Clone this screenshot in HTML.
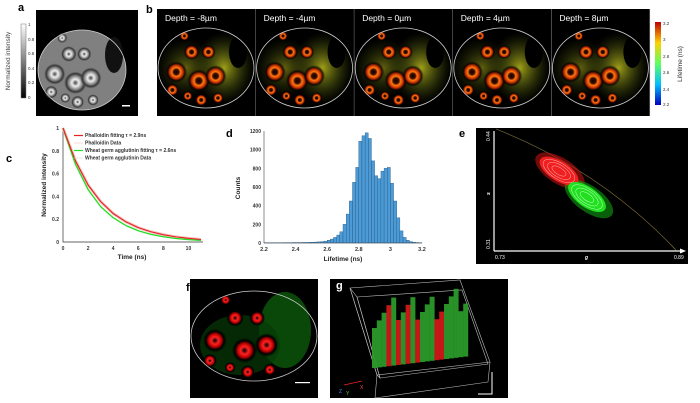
<!DOCTYPE html>
<html><head><meta charset="utf-8"><style>
body{margin:0;background:#fff}
svg{display:block;font-family:"Liberation Sans",Arial,sans-serif}
</style></head><body>
<svg id="fig" width="700" height="403" viewBox="0 0 700 403">
<defs>
<linearGradient id="gray" x1="0" y1="1" x2="0" y2="0"><stop offset="0" stop-color="#000"/><stop offset="1" stop-color="#fff"/></linearGradient>
<linearGradient id="jet" x1="0" y1="1" x2="0" y2="0"><stop offset="0" stop-color="#0000c0"/><stop offset="0.25" stop-color="#00c0ff"/><stop offset="0.5" stop-color="#60ff60"/><stop offset="0.75" stop-color="#ffd000"/><stop offset="1" stop-color="#c00000"/></linearGradient>
<radialGradient id="orange"><stop offset="0" stop-color="#100"/><stop offset="0.25" stop-color="#401000"/><stop offset="0.4" stop-color="#ff7a10"/><stop offset="0.62" stop-color="#c83000"/><stop offset="0.8" stop-color="#100" stop-opacity="0.8"/><stop offset="1" stop-color="#000" stop-opacity="0"/></radialGradient>
<radialGradient id="yel"><stop offset="0" stop-color="#a0a018"/><stop offset="1" stop-color="#405010" stop-opacity="0"/></radialGradient>
<radialGradient id="grayc"><stop offset="0" stop-color="#444"/><stop offset="0.3" stop-color="#eee"/><stop offset="0.55" stop-color="#999"/><stop offset="0.8" stop-color="#333"/><stop offset="1" stop-color="#666" stop-opacity="0"/></radialGradient>
<radialGradient id="redc"><stop offset="0" stop-color="#000"/><stop offset="0.3" stop-color="#f22"/><stop offset="0.55" stop-color="#b00"/><stop offset="0.75" stop-color="#000"/><stop offset="1" stop-color="#000" stop-opacity="0"/></radialGradient>
</defs>

<!-- panel a -->
<text x="18" y="11" font-size="11" font-weight="bold">a</text>
<rect x="21" y="24" width="5" height="74" fill="url(#gray)" stroke="#777" stroke-width="0.5"/>
<g font-size="4.5" fill="#333">
<text x="28" y="26">1</text><text x="28" y="41">0.8</text><text x="28" y="55">0.6</text><text x="28" y="70">0.4</text><text x="28" y="84">0.2</text><text x="28" y="99">0</text></g>
<text transform="translate(10,61) rotate(-90)" font-size="6.5" fill="#444" text-anchor="middle">Normalized intensity</text>
<rect x="36" y="10" width="102" height="106" fill="#000"/>
<g id="aCells"></g>
<ellipse cx="82" cy="70" rx="44" ry="40" fill="none" stroke="#ccc" stroke-width="0.8"/>
<rect x="122" y="105" width="8" height="1.5" fill="#fff"/>

<!-- panel b -->
<text x="146" y="13" font-size="11" font-weight="bold">b</text>
<g id="bPanels"></g>
<rect x="655" y="22" width="6" height="83" fill="url(#jet)"/>
<g font-size="4.5" fill="#333">
<text x="663" y="25">3.2</text><text x="663" y="41">3</text><text x="663" y="58">2.8</text><text x="663" y="74">2.6</text><text x="663" y="91">2.4</text><text x="663" y="106">2.2</text></g>
<text transform="translate(682,64) rotate(-90)" font-size="6.5" fill="#333" text-anchor="middle">Lifetime (ns)</text>

<!-- panel c -->
<text x="6" y="162" font-size="11" font-weight="bold">c</text>
<g id="cChart"></g>

<!-- panel d -->
<text x="226" y="137" font-size="11" font-weight="bold">d</text>
<g id="dChart"></g>

<!-- panel e -->
<text x="459" y="137" font-size="11" font-weight="bold">e</text>
<rect x="476" y="128" width="212" height="136" fill="#000"/>
<path d="M 496 129 Q 600 170 676 250" fill="none" stroke="#8a7a40" stroke-width="0.6"/>
<g id="ePts"></g>
<g>
<ellipse cx="559" cy="171" rx="22" ry="10" transform="rotate(32 559 171)" fill="#f02020"/>
<ellipse cx="559" cy="171" rx="18" ry="8" transform="rotate(32 559 171)" fill="none" stroke="#ffaaaa" stroke-width="0.5"/>
<ellipse cx="559" cy="171" rx="13" ry="6" transform="rotate(32 559 171)" fill="none" stroke="#ffaaaa" stroke-width="0.5"/>
<ellipse cx="559" cy="171" rx="8" ry="3.5" transform="rotate(32 559 171)" fill="none" stroke="#ffaaaa" stroke-width="0.5"/></g>
<g>
<ellipse cx="587" cy="197" rx="22" ry="10" transform="rotate(35 587 197)" fill="#20e020"/>
<ellipse cx="587" cy="197" rx="18" ry="8" transform="rotate(35 587 197)" fill="none" stroke="#c0ffc0" stroke-width="0.5"/>
<ellipse cx="587" cy="197" rx="13" ry="6" transform="rotate(35 587 197)" fill="none" stroke="#c0ffc0" stroke-width="0.5"/>
<ellipse cx="587" cy="197" rx="8" ry="3.5" transform="rotate(35 587 197)" fill="none" stroke="#c0ffc0" stroke-width="0.5"/></g>
<g stroke="#fff" stroke-width="1.2">
<line x1="494" y1="131" x2="494" y2="251"/><line x1="494" y1="251" x2="682" y2="251"/></g>
<polygon points="686,251 680,248.5 680,253.5" fill="#fff"/>
<g fill="#fff" font-size="5">
<text x="495" y="259">0.73</text><text x="674" y="259">0.89</text><text x="585" y="259" font-style="italic" font-weight="bold">g</text>
<text transform="translate(490,141) rotate(-90)">0.44</text><text transform="translate(490,249) rotate(-90)">0.31</text>
<text transform="translate(490,195) rotate(-90)" font-weight="bold" font-style="italic">s</text></g>

<!-- panel f -->
<rect x="190" y="279" width="128" height="119" fill="#000"/>
<g id="fCells"></g>
<ellipse cx="254" cy="336" rx="63" ry="45" fill="none" stroke="#ccc" stroke-width="0.8"/>
<rect x="295" y="382" width="15" height="1.2" fill="#fff"/>
<text x="186" y="291" font-size="11" font-weight="bold">f</text>

<!-- panel g -->
<rect x="330" y="279" width="178" height="119" fill="#000"/>
<text x="336" y="289" font-size="11" font-weight="bold" fill="#fff">g</text>
<g fill="none" stroke="#bbb" stroke-width="0.6">
<polygon points="350,288 460,280 490,362 377,375"/>
<polygon points="357,297 462,290 488,364 380,378"/>
<polygon points="350,288 357,297 380,378 377,375" />
<line x1="377" y1="375" x2="375" y2="398"/><line x1="490" y1="362" x2="488" y2="382"/><line x1="375" y1="398" x2="488" y2="382"/>
</g>
<g id="gBars"></g>
<g font-size="5"><text x="339" y="393" fill="#48f">Z</text><text x="346" y="395" fill="#4c4">Y</text><text x="360" y="389" fill="#f44">X</text></g>
<line x1="344" y1="385" x2="362" y2="381" stroke="#e22" stroke-width="0.8"/>
<path d="M 492 372 L 492 394 L 478 394" fill="none" stroke="#fff" stroke-width="1"/>
</svg>
<script>
// ---------- panel c data ----------
const cTimes = [0,1,2,3,4,5,6,7,8,9,10,11];
const phalloidinFit = [1,0.71,0.50,0.355,0.25,0.178,0.126,0.09,0.064,0.045,0.032,0.022];
const wgaFit = [1,0.68,0.46,0.31,0.213,0.145,0.099,0.067,0.046,0.031,0.021,0.014];
const cXTicks = [0,2,4,6,8,10];
const cYTicks = [0,0.2,0.4,0.6,0.8,1];
// ---------- panel d data ----------
const histStart = 2.2;
const histBinWidth = 0.02;
const histCounts = [3,3,3,3,3,3,4,4,4,5,5,5,6,6,7,8,10,12,15,20,30,42,60,85,120,200,310,450,650,810,1090,1150,1180,1120,880,720,690,770,800,810,640,450,270,130,60,30,15,8,5,3];
const dXTicks = [2.2,2.4,2.6,2.8,3,3.2];
const dYTicks = [0,200,400,600,800,1000,1200];

const NS='http://www.w3.org/2000/svg';
function mk(tag, attrs, parent){const e=document.createElementNS(NS,tag);for(const k in attrs)e.setAttribute(k,attrs[k]);parent.appendChild(e);return e;}

// panel c
(function(){
 const g=document.getElementById('cChart');
 const x0=63,x1=201,y0=242,y1=128;
 const xs=t=>x0+(t/11)*(x1-x0), ys=v=>y0-(v)*(y0-y1);
 const ax=mk('path',{d:`M${x0} ${y1} L${x0} ${y0} L${x1+2} ${y0}`,fill:'none',stroke:'#333','stroke-width':0.7},g);
 
 
 cXTicks.forEach(t=>{const tx=mk('text',{x:xs(t),y:y0+8,'font-size':5,'font-weight':'bold','text-anchor':'middle',fill:'#333'},g);tx.textContent=t;
  
  });
 cYTicks.forEach(v=>{const tx=mk('text',{x:x0-4,y:ys(v)+2,'font-size':5,'font-weight':'bold','text-anchor':'end',fill:'#333'},g);tx.textContent=v;
  
  });
 function pts(arr){return arr.map((v,i)=>xs(cTimes[i])+','+ys(v)).join(' ');}
 const sc1=mk('polyline',{points:pts(phalloidinFit),fill:'none',stroke:'#f4c0c0','stroke-width':3,'stroke-linejoin':'round'},g);
 
 
 const l2=mk('polyline',{points:pts(wgaFit),fill:'none',stroke:'#22dd22','stroke-width':1.3,'stroke-linejoin':'round'},g);
 
 
 const l1=mk('polyline',{points:pts(phalloidinFit),fill:'none',stroke:'#e82020','stroke-width':1.1,'stroke-linejoin':'round'},g);
 
 
 const xt=mk('text',{x:(x0+x1)/2,y:y0+17,'font-size':6.5,'font-weight':'bold','text-anchor':'middle',fill:'#222'},g);xt.textContent='Time (ns)';
 
 
 const yt=mk('text',{transform:`translate(46,185) rotate(-90)`,'font-size':6.5,'font-weight':'bold','text-anchor':'middle',fill:'#222'},g);yt.textContent='Normalized intensity';
 
 
 const leg=[['Phalloidin fitting \u03C4 = 2.9ns','#e82020'],['Phalloidin Data','#f4c0c0'],['Wheat germ agglutinin fitting \u03C4 = 2.6ns','#22dd22'],['Wheat germ agglutinin Data','#c0f0c0']];
 leg.forEach((L,i)=>{const y=137+i*7.5;
  const ln=mk('line',{x1:74,y1:y-1.5,x2:83,y2:y-1.5,stroke:L[1],'stroke-width':i%2?0.6:1.2},g);
  
  
  const t=mk('text',{x:85,y:y,'font-size':5,'font-weight':'bold',fill:'#333'},g);t.textContent=L[0];
  
  });
})();

// panel d
(function(){
 const g=document.getElementById('dChart');
 const x0=264,x1=422,y0=243,y1=131;
 const xs=v=>x0+(v-2.2)/(1.0)*(x1-x0), ys=c=>y0-c/1200*(y0-y1);
 histCounts.forEach((c,i)=>{const a=histStart+i*histBinWidth;const X=xs(a),W=xs(a+histBinWidth)-X;
  const r=mk('rect',{x:X,y:ys(c),width:W,height:y0-ys(c),fill:'#4d9bd6',stroke:'#1d4f7a','stroke-width':0.35},g);
  
  });
 const ax=mk('path',{d:`M${x0} ${y1} L${x0} ${y0} L${x1} ${y0}`,fill:'none',stroke:'#444','stroke-width':0.6},g);
 
 
 dXTicks.forEach(v=>{const t=mk('text',{x:xs(v),y:y0+8,'font-size':5.5,'font-weight':'bold','text-anchor':'middle',fill:'#333'},g);t.textContent=v;
  
  });
 dYTicks.forEach(v=>{const t=mk('text',{x:x0-3,y:ys(v)+2,'font-size':5,'font-weight':'bold','text-anchor':'end',fill:'#333'},g);t.textContent=v;
  
  });
 const xt=mk('text',{x:(x0+x1)/2,y:y0+18,'font-size':6.5,'font-weight':'bold','text-anchor':'middle',fill:'#222'},g);xt.textContent='Lifetime (ns)';
 
 
 const yt=mk('text',{transform:`translate(240,188) rotate(-90)`,'font-size':6.5,'font-weight':'bold','text-anchor':'middle',fill:'#222'},g);yt.textContent='Counts';
 
 
})();

// decorative cell layout (relative in unit ellipse coords)
const cells=[[-0.62,0.1,0.3],[-0.15,0.32,0.32],[0.2,0.2,0.3],[-0.3,-0.4,0.22],[0.05,-0.4,0.2],[-0.7,0.55,0.18],[-0.1,0.8,0.18],[0.25,0.75,0.16],[-0.38,0.7,0.14],[-0.45,-0.8,0.14]];
// panel a cells
(function(){const g=document.getElementById('aCells');
 mk('ellipse',{cx:82,cy:70,rx:44,ry:40,fill:'#808080'},g);
 mk('ellipse',{cx:114,cy:55,rx:9,ry:18,fill:'#111'},g);
 cells.forEach(c=>mk('circle',{cx:82+c[0]*44,cy:70+c[1]*40,r:c[2]*36,fill:'url(#grayc)'},g));})();
// panel b panels
(function(){const g=document.getElementById('bPanels');
 const depths=['-8\u00B5m','-4\u00B5m','0\u00B5m','4\u00B5m','8\u00B5m'];
 depths.forEach((d,i)=>{const X=157+i*98.6;
  const p=mk('g',{},g);
  
  
  mk('rect',{x:X,y:9,width:98.6,height:107,fill:'#000'},p);
  const cx=X+49,cy=68,rx=48,ry=40;
  mk('ellipse',{cx:cx+18,cy:cy,rx:30,ry:36,fill:'url(#yel)'},p);
  mk('ellipse',{cx:cx-20,cy:cy,rx:30,ry:30,fill:'url(#yel)',opacity:0.6},p);
  mk('ellipse',{cx:cx+32,cy:cy-16,rx:9,ry:16,fill:'#000'},p);
  cells.forEach(c=>mk('circle',{cx:cx+c[0]*rx,cy:cy+c[1]*ry,r:c[2]*36,fill:'url(#orange)'},p));
  mk('ellipse',{cx:cx,cy:cy,rx:rx,ry:ry,fill:'none',stroke:'#ccc','stroke-width':0.8},p);
  const t=mk('text',{x:X+8,y:21,'font-size':8.5,fill:'#fff'},p);t.textContent='Depth = '+d;
  
  
  mk('line',{x1:X+98.6,y1:9,x2:X+98.6,y2:116,stroke:'#ddd','stroke-width':0.6},p);
 });})();
// panel e scatter halo
(function(){const g=document.getElementById('ePts');
 mk('ellipse',{cx:560,cy:171,rx:28,ry:13,transform:'rotate(32 560 171)',fill:'#c01010',opacity:0.6},g);
 mk('ellipse',{cx:589,cy:199,rx:28,ry:13,transform:'rotate(35 589 199)',fill:'#10a010',opacity:0.6},g);})();
// panel f
(function(){const g=document.getElementById('fCells');
 mk('ellipse',{cx:285,cy:330,rx:26,ry:38,fill:'#0c5a0c',opacity:0.8},g);
 mk('ellipse',{cx:240,cy:345,rx:40,ry:30,fill:'#063a06',opacity:0.7},g);
 cells.forEach(c=>mk('circle',{cx:254+c[0]*63,cy:336+c[1]*45,r:c[2]*40,fill:'url(#redc)'},g));})();
// panel g
(function(){const g=document.getElementById('gBars');
 for(let i=0;i<20;i++){const x=372+i*4.8;const red=(i>=3&&i<=10&&i%2==1)||i==13||i==14;
  const h=40+((i*37)%30);const y=368-h-(i*0.6);
  mk('rect',{x:x,y:y,width:5,height:h,fill:red?'#d01818':'#2a9a2a',opacity:0.95},g);}
})();
</script>
</body></html>
